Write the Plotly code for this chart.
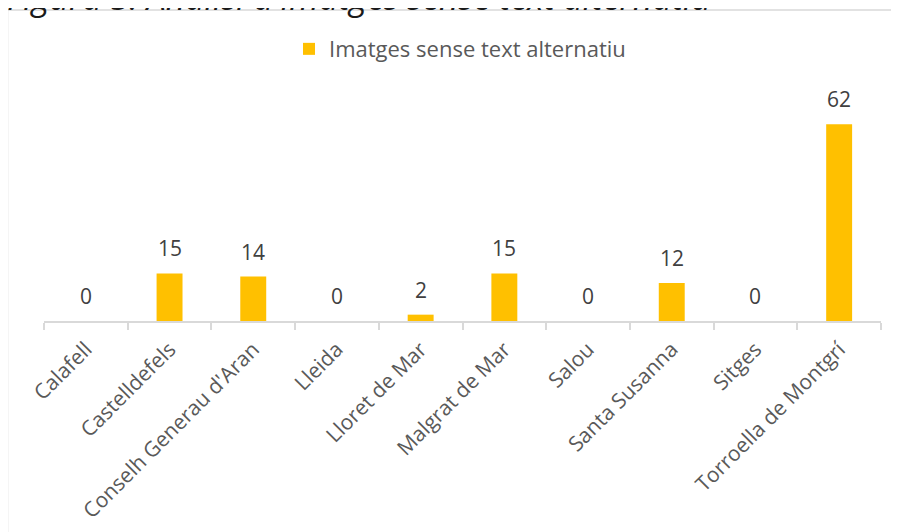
import plotly.graph_objects as go

categories = ["Calafell", "Castelldefels", "Conselh Generau d'Aran", "Lleida",
              "Lloret de Mar", "Malgrat de Mar", "Salou", "Santa Susanna",
              "Sitges", "Torroella de Montgrí"]
values = [0, 15, 14, 0, 2, 15, 0, 12, 0, 62]
series_name = "Imatges sense text alternatiu"
title_text = "Figura 5. Anàlisi d'imatges sense text alternatiu"

FONT = "Open Sans"
BAR = "#FFC000"
AXIS = "#D9D9D9"
FS = 21

fig = go.Figure()
fig.add_trace(go.Bar(
    x=categories, y=values, name=series_name,
    marker=dict(color=BAR, line=dict(width=0)),
    width=0.31, showlegend=True,
))

annotations = []
for c, v in zip(categories, values):
    annotations.append(dict(
        x=c, y=v, xref="x", yref="y", text=str(v), showarrow=False,
        yanchor="middle", yshift=25,
        font=dict(family=FONT, size=FS, color="#404040"),
    ))
annotations.append(dict(
    xref="paper", yref="paper", x=-0.0466, y=1.458, xanchor="left", yanchor="middle",
    text=title_text, showarrow=False,
    font=dict(family=FONT, size=34, color="#1a1a1a", style="italic"),
))

fig.update_layout(
    width=891, height=524,
    margin=dict(l=36, r=18, t=91, b=211),
    paper_bgcolor="white", plot_bgcolor="white",
    font=dict(family=FONT, color="#595959", size=FS),
    annotations=annotations,
    legend=dict(orientation="h", x=0.497, xanchor="center", y=1.225, yanchor="middle",
                font=dict(family=FONT, size=22, color="#595959"),
                itemwidth=30, bgcolor="rgba(0,0,0,0)"),
    shapes=[dict(type="rect", xref="paper", yref="paper",
                 x0=-0.0436, x1=1.3, y0=-1.3, y1=1.401,
                 line=dict(color=AXIS, width=1.5), fillcolor="rgba(0,0,0,0)",
                 layer="below")],
    xaxis=dict(
        showline=True, linecolor=AXIS, linewidth=1.5,
        ticks="outside", tickson="boundaries", ticklen=7, tickcolor=AXIS, tickwidth=1.5,
        tickangle=-45, tickfont=dict(family=FONT, size=FS, color="#595959"),
        ticklabelstandoff=6,
        showgrid=False, zeroline=False, automargin=False,
    ),
    yaxis=dict(range=[0, 70], visible=False, showgrid=False, zeroline=False),
)

fig.write_html("out.html")
